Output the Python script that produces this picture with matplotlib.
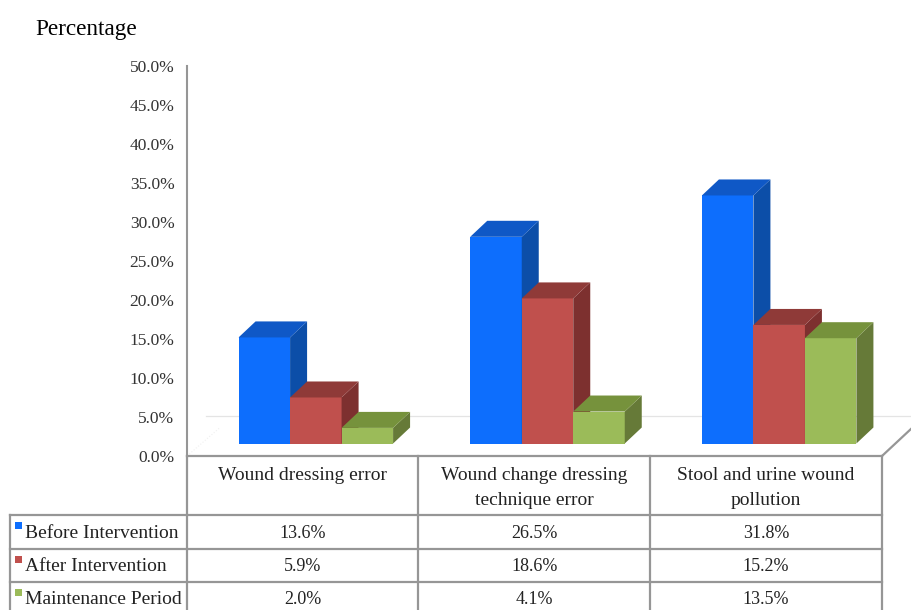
import numpy as np
import matplotlib
matplotlib.use("Agg")
import matplotlib.pyplot as plt

categories = ["Wound dressing error", "Wound change dressing\ntechnique error", "Stool and urine wound\npollution"]
series_names = ["Before Intervention", "After Intervention", "Maintenance Period"]
before = [13.6, 26.5, 31.8]
after = [5.9, 18.6, 15.2]
maintenance = [2.0, 4.1, 13.5]
y_ticks = [0, 5, 10, 15, 20, 25, 30, 35, 40, 45, 50]

W, H = 912, 610
FONT = "Liberation Serif"
front = ["#0D6EFD", "#C0504D", "#9BBB59"]
side = ["#0C4EA8", "#7D302F", "#667A38"]
top = ["#0F58C6", "#8F3A38", "#76923C"]
grid_col = "#969696"

fig = plt.figure(figsize=(W / 100, H / 100), dpi=100)
# plot box in pixels: x 187-882, y 66-456
ax = fig.add_axes([187 / W, 1 - 456 / H, 695 / W, 390 / H])
ax.set_xlim(-0.5, 2.5)
ax.set_ylim(0, 50)

cat_px = 695 / 3
bar_w = 51.5 / cat_px
dx = 17 / cat_px
dy = 16 / 7.8
base = 12.5 / 7.8
shift = 13 / cat_px  # bars sit right of the cell centre in the reference

# faint back wall / floor lines
ax.plot([-0.42, 2.5 + 30 / cat_px], [base + dy + 1.45, base + dy + 1.45], color="#e4e4e4", lw=0.9, clip_on=False, zorder=1)
ax.plot([2.5, 2.5 + 30 / cat_px], [0, 28 / 7.8], color=grid_col, lw=1.6, clip_on=False, zorder=1)
ax.plot([-0.5, -0.36], [0, 28 / 7.8], color="#f0f0f0", lw=0.8, ls=":", clip_on=False, zorder=1)

for i, vals in enumerate([before, after, maintenance]):
    for j, v in enumerate(vals):
        x0 = j + (i - 1.5) * bar_w + shift
        x1 = x0 + bar_w
        h = base + v
        z = 3 + i
        ax.bar(x0, v, width=bar_w, bottom=base, align="edge", color=front[i], zorder=z)
        ax.fill([x1, x1 + dx, x1 + dx, x1], [base, base + dy, h + dy, h], color=side[i], lw=0, zorder=z)
        ax.fill([x0, x0 + dx, x1 + dx, x1], [h, h + dy, h + dy, h], color=top[i], lw=0, zorder=z)

ax.set_xticks([])
ax.set_yticks(y_ticks)
ax.set_yticklabels([f"{t:.1f}%" for t in y_ticks], fontsize=12.5, family=FONT, color="#333333")
ax.tick_params(axis="y", length=0, pad=9)
for s in ["top", "right", "bottom"]:
    ax.spines[s].set_visible(False)
ax.spines["left"].set_color(grid_col)
ax.spines["left"].set_linewidth(1.5)

# table drawn on a pixel overlay
tb = fig.add_axes([0, 0, 1, 1])
tb.set_xlim(0, W)
tb.set_ylim(H, 0)
tb.axis("off")
tb.patch.set_alpha(0)
col_x = [187, 418.5, 650, 882]
row_y = [515, 548.5, 582, 615]
tb.plot([187, 882], [456, 456], color=grid_col, lw=1.6)
for y in row_y:
    tb.plot([10, 882], [y, y], color=grid_col, lw=1.6)
for x in col_x:
    tb.plot([x, x], [456, 610], color=grid_col, lw=1.6)
tb.plot([10, 10], [515, 610], color=grid_col, lw=1.6)

for j, c in enumerate(categories):
    cx = (col_x[j] + col_x[j + 1]) / 2
    tb.text(cx, 467, c, ha="center", va="top", fontsize=14, family=FONT, color="#222222", linespacing=1.6)

for i, vals in enumerate([before, after, maintenance]):
    cy = (row_y[i] + row_y[i + 1]) / 2 + 1.5
    tb.add_patch(plt.Rectangle((15, cy - 11), 7, 7, color=front[i], lw=0))
    tb.text(25, cy, series_names[i], ha="left", va="center", fontsize=14, family=FONT, color="#222222")
    for j, v in enumerate(vals):
        cx = (col_x[j] + col_x[j + 1]) / 2
        tb.text(cx, cy, f"{v:.1f}%", ha="center", va="center", fontsize=13, family=FONT, color="#222222")

tb.text(35, 29, "Percentage", ha="left", va="center", fontsize=16.7, family=FONT, color="black")

fig.savefig("out.png", dpi=100)
